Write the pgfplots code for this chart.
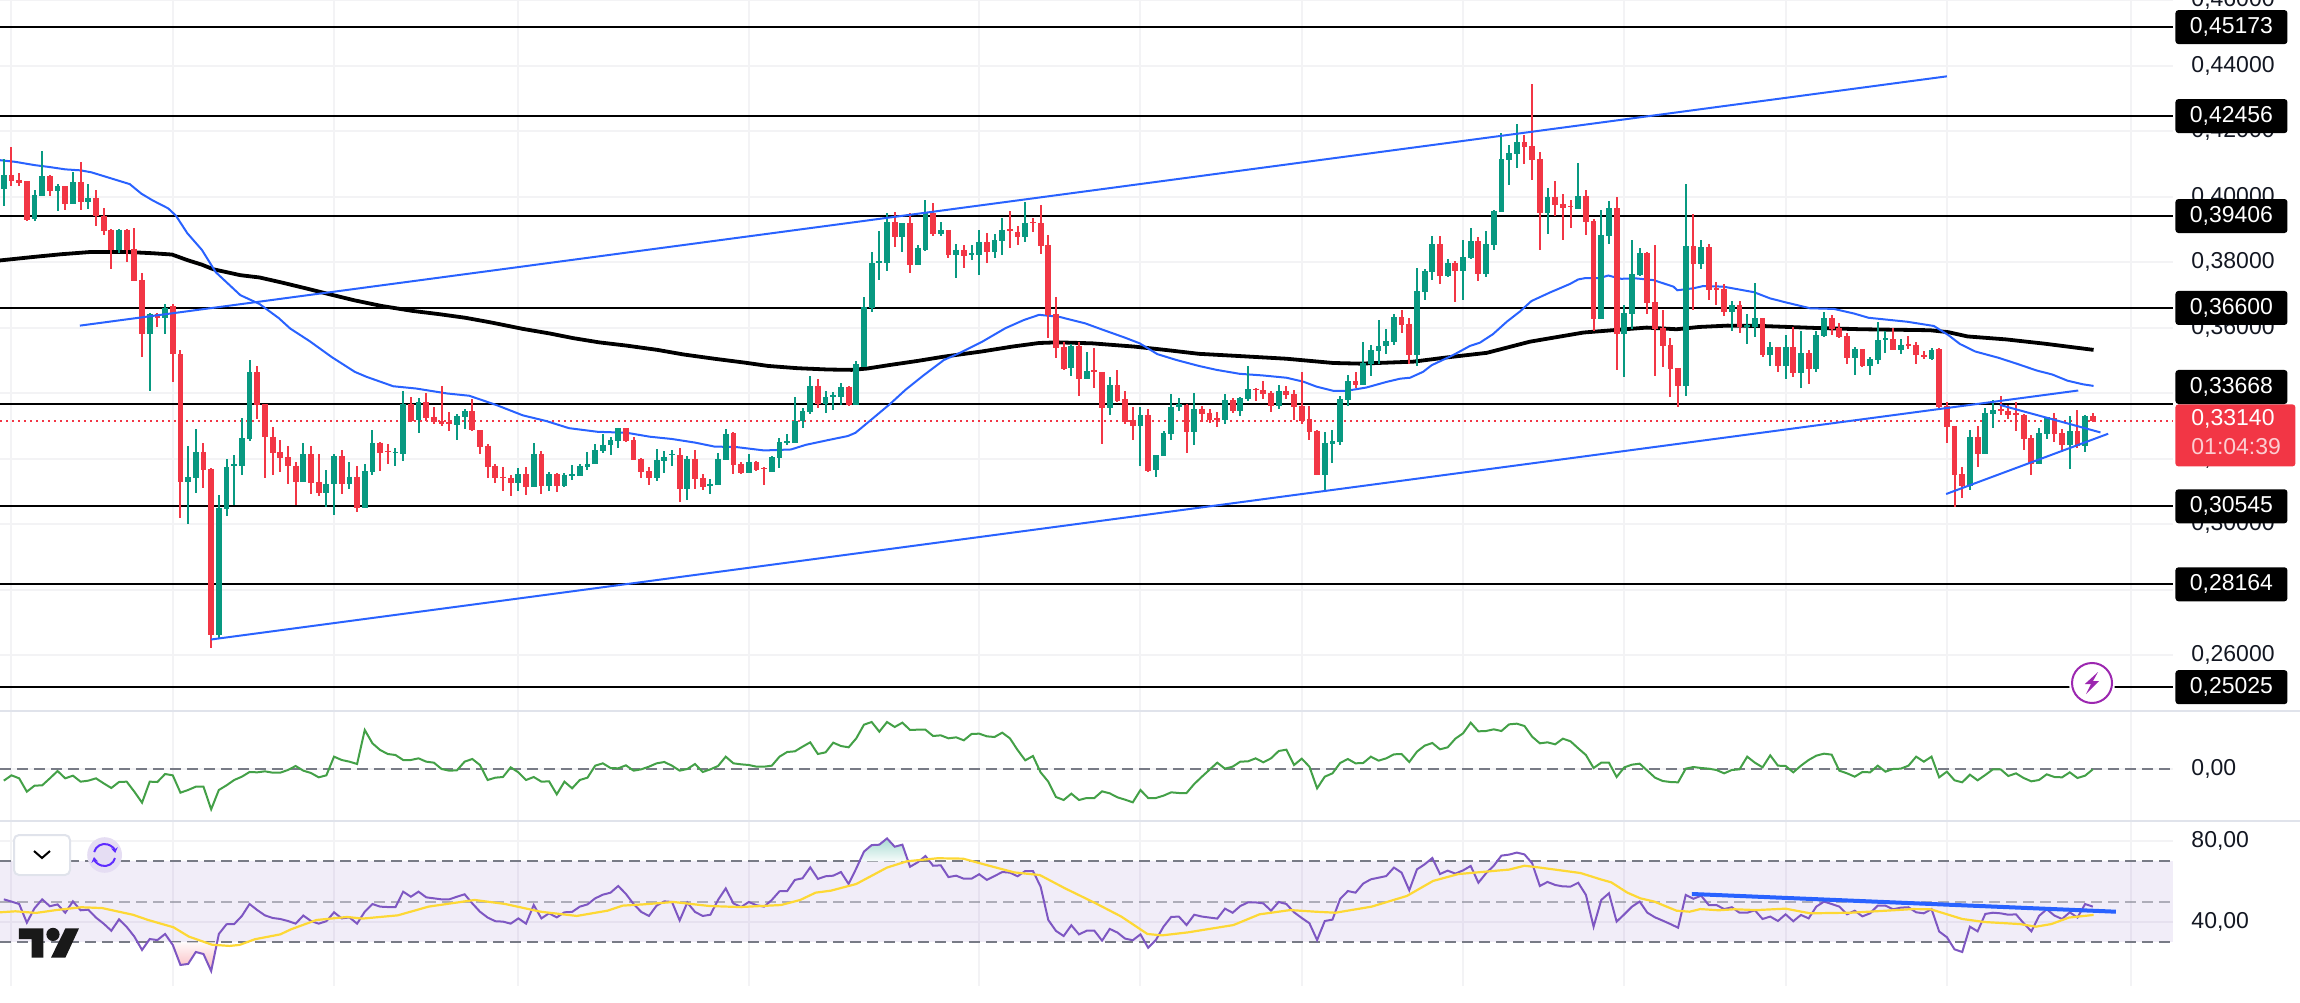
\documentclass[border=0pt]{standalone}
\usepackage{fontspec}
\setmainfont{Liberation Sans}
\usepackage{pgfplots}
\usepackage{pgfplotstable}
\pgfplotsset{compat=1.18}
\usetikzlibrary{arrows.meta}

\definecolor{upc}{HTML}{089981}
\definecolor{downc}{HTML}{F23645}
\definecolor{trend}{HTML}{2962FF}
\definecolor{gridc}{HTML}{F3F3F5}
\definecolor{divc}{HTML}{E0E3EB}
\definecolor{labc}{HTML}{131722}
\definecolor{dashc}{HTML}{787B86}
\definecolor{rsic}{HTML}{7E57C2}
\definecolor{rsima}{HTML}{FDD835}
\definecolor{cmfc}{HTML}{43A047}
\definecolor{boltc}{HTML}{9C27B0}
\definecolor{syncc}{HTML}{5E2BFF}

% i open high low close
\pgfplotstableread{
i o h l c
0 0.4022 0.4114 0.3971 0.4066
4 0.3930 0.4019 0.3926 0.4005
5 0.4003 0.4139 0.4003 0.4062
7 0.4018 0.4037 0.3956 0.4031
9 0.3978 0.4075 0.3978 0.4044
11 0.3983 0.4038 0.3962 0.3995
15 0.3836 0.3900 0.3827 0.3899
19 0.3581 0.3646 0.3405 0.3642
21 0.3628 0.3673 0.3579 0.3661
24 0.3130 0.3239 0.3002 0.3143
25 0.3142 0.3290 0.3096 0.3220
28 0.2663 0.3088 0.2650 0.3050
29 0.3046 0.3199 0.3026 0.3173
30 0.3178 0.3211 0.3057 0.3183
31 0.3179 0.3323 0.3150 0.3262
32 0.3260 0.3500 0.3254 0.3464
39 0.3130 0.3248 0.3130 0.3213
42 0.3095 0.3164 0.3053 0.3124
43 0.3123 0.3215 0.3027 0.3208
45 0.3123 0.3189 0.3108 0.3145
47 0.3050 0.3183 0.3050 0.3162
48 0.3159 0.3288 0.3151 0.3249
51 0.3217 0.3234 0.3178 0.3221
52 0.3215 0.3407 0.3193 0.3367
54 0.3317 0.3384 0.3279 0.3372
59 0.3303 0.3335 0.3256 0.3329
60 0.3328 0.3353 0.3290 0.3345
67 0.3125 0.3170 0.3101 0.3152
69 0.3114 0.3249 0.3114 0.3215
71 0.3117 0.3159 0.3101 0.3152
73 0.3116 0.3155 0.3114 0.3150
74 0.3148 0.3180 0.3136 0.3152
75 0.3146 0.3185 0.3146 0.3178
76 0.3176 0.3219 0.3166 0.3185
77 0.3185 0.3244 0.3185 0.3226
78 0.3222 0.3274 0.3218 0.3243
79 0.3241 0.3265 0.3212 0.3257
80 0.3255 0.3295 0.3232 0.3294
85 0.3141 0.3228 0.3132 0.3195
86 0.3194 0.3223 0.3156 0.3204
87 0.3210 0.3226 0.3178 0.3214
89 0.3108 0.3208 0.3075 0.3199
92 0.3116 0.3138 0.3092 0.3123
93 0.3119 0.3216 0.3119 0.3199
94 0.3197 0.3289 0.3197 0.3274
97 0.3157 0.3214 0.3157 0.3190
100 0.3160 0.3207 0.3160 0.3205
101 0.3203 0.3262 0.3171 0.3250
102 0.3249 0.3274 0.3242 0.3253
103 0.3249 0.3387 0.3249 0.3315
104 0.3314 0.3354 0.3295 0.3344
105 0.3342 0.3451 0.3337 0.3422
107 0.3367 0.3406 0.3339 0.3387
108 0.3389 0.3404 0.3348 0.3393
109 0.3388 0.3430 0.3363 0.3419
111 0.3365 0.3497 0.3365 0.3488
112 0.3481 0.3693 0.3481 0.3662
113 0.3659 0.3831 0.3648 0.3797
114 0.3797 0.3895 0.3745 0.3802
115 0.3797 0.3950 0.3773 0.3922
117 0.3877 0.3919 0.3831 0.3919
119 0.3791 0.3852 0.3791 0.3843
120 0.3837 0.3989 0.3834 0.3952
122 0.3886 0.3922 0.3880 0.3897
124 0.3822 0.3855 0.3751 0.3837
126 0.3822 0.3852 0.3806 0.3828
127 0.3822 0.3898 0.3760 0.3861
129 0.3831 0.3886 0.3812 0.3867
130 0.3864 0.3935 0.3822 0.3898
133 0.3877 0.3983 0.3861 0.3919
139 0.3477 0.3550 0.3452 0.3544
141 0.3443 0.3525 0.3443 0.3467
144 0.3355 0.3449 0.3333 0.3425
148 0.3300 0.3358 0.3177 0.3333
150 0.3165 0.3211 0.3144 0.3211
151 0.3208 0.3284 0.3208 0.3278
152 0.3275 0.3397 0.3257 0.3358
153 0.3357 0.3385 0.3345 0.3367
155 0.3281 0.3400 0.3242 0.3351
159 0.3318 0.3397 0.3306 0.3379
161 0.3345 0.3388 0.3330 0.3385
162 0.3382 0.3483 0.3376 0.3412
166 0.3361 0.3425 0.3352 0.3406
172 0.3150 0.3281 0.3101 0.3248
173 0.3245 0.3287 0.3187 0.3254
174 0.3251 0.3391 0.3241 0.3382
175 0.3379 0.3455 0.3361 0.3437
177 0.3425 0.3556 0.3425 0.3492
178 0.3489 0.3547 0.3452 0.3532
179 0.3529 0.3623 0.3489 0.3544
180 0.3544 0.3596 0.3519 0.3559
181 0.3556 0.3641 0.3547 0.3632
184 0.3516 0.3782 0.3483 0.3712
185 0.3709 0.3779 0.3684 0.3773
186 0.3770 0.3880 0.3745 0.3855
188 0.3757 0.3809 0.3754 0.3797
190 0.3773 0.3867 0.3684 0.3815
191 0.3812 0.3904 0.3809 0.3864
193 0.3763 0.3895 0.3754 0.3855
194 0.3852 0.3959 0.3837 0.3956
195 0.3953 0.4194 0.3953 0.4115
196 0.4112 0.4157 0.4035 0.4133
197 0.4130 0.4221 0.4087 0.4167
201 0.3950 0.4026 0.3886 0.3999
205 0.3962 0.4102 0.3962 0.4002
208 0.3626 0.3959 0.3626 0.3883
209 0.3880 0.3987 0.3855 0.3965
211 0.3580 0.3669 0.3449 0.3644
212 0.3641 0.3867 0.3596 0.3763
213 0.3760 0.3843 0.3757 0.3828
219 0.3422 0.4038 0.3391 0.3849
221 0.3794 0.3867 0.3779 0.3846
225 0.3648 0.3681 0.3590 0.3669
227 0.3603 0.3641 0.3550 0.3609
228 0.3602 0.3736 0.3571 0.3629
230 0.3516 0.3556 0.3483 0.3541
232 0.3483 0.3577 0.3443 0.3541
234 0.3461 0.3590 0.3416 0.3522
236 0.3474 0.3590 0.3464 0.3577
237 0.3574 0.3648 0.3571 0.3629
241 0.3507 0.3541 0.3455 0.3535
243 0.3483 0.3510 0.3455 0.3504
244 0.3501 0.3617 0.3489 0.3562
245 0.3562 0.3590 0.3522 0.3568
247 0.3532 0.3565 0.3519 0.3547
251 0.3505 0.3539 0.3501 0.3532
256 0.3116 0.3287 0.3104 0.3266
258 0.3214 0.3355 0.3214 0.3339
259 0.3336 0.3379 0.3294 0.3348
265 0.3184 0.3294 0.3184 0.3278
266 0.3275 0.3327 0.3260 0.3327
269 0.3242 0.3330 0.3168 0.3284
271 0.3239 0.3333 0.3220 0.3330
}\upT

\pgfplotstableread{
i o h l c
1 0.4066 0.4150 0.4031 0.4047
2 0.4051 0.4071 0.4032 0.4041
3 0.4046 0.4049 0.3926 0.3929
6 0.4062 0.4065 0.4003 0.4018
8 0.4032 0.4033 0.3960 0.3978
10 0.4045 0.4105 0.3960 0.3984
12 0.3995 0.4019 0.3910 0.3940
13 0.3941 0.3965 0.3884 0.3895
14 0.3899 0.3900 0.3780 0.3838
16 0.3899 0.3902 0.3801 0.3838
17 0.3841 0.3903 0.3743 0.3743
18 0.3746 0.3767 0.3511 0.3581
20 0.3641 0.3645 0.3601 0.3628
22 0.3666 0.3671 0.3434 0.3518
23 0.3518 0.3533 0.3020 0.3130
26 0.3220 0.3248 0.3110 0.3165
27 0.3169 0.3171 0.2623 0.2663
33 0.3464 0.3482 0.3321 0.3365
34 0.3367 0.3368 0.3142 0.3267
35 0.3267 0.3296 0.3150 0.3218
36 0.3220 0.3256 0.3159 0.3203
37 0.3204 0.3238 0.3122 0.3178
38 0.3179 0.3189 0.3057 0.3130
40 0.3213 0.3238 0.3092 0.3125
41 0.3129 0.3215 0.3086 0.3094
44 0.3208 0.3225 0.3091 0.3123
46 0.3145 0.3178 0.3037 0.3050
49 0.3249 0.3250 0.3162 0.3218
50 0.3224 0.3244 0.3185 0.3219
53 0.3367 0.3389 0.3312 0.3315
55 0.3372 0.3399 0.3316 0.3323
56 0.3328 0.3358 0.3305 0.3311
57 0.3314 0.3422 0.3301 0.3305
58 0.3312 0.3343 0.3284 0.3307
61 0.3345 0.3381 0.3284 0.3286
62 0.3287 0.3288 0.3214 0.3235
63 0.3240 0.3244 0.3141 0.3175
64 0.3178 0.3185 0.3127 0.3142
65 0.3145 0.3173 0.3101 0.3142
66 0.3141 0.3150 0.3085 0.3125
68 0.3152 0.3173 0.3089 0.3114
70 0.3215 0.3224 0.3092 0.3117
72 0.3152 0.3156 0.3099 0.3116
81 0.3294 0.3295 0.3254 0.3255
82 0.3257 0.3265 0.3197 0.3197
83 0.3199 0.3201 0.3142 0.3160
84 0.3162 0.3174 0.3119 0.3142
88 0.3211 0.3231 0.3069 0.3108
90 0.3199 0.3226 0.3108 0.3139
91 0.3141 0.3153 0.3104 0.3113
95 0.3278 0.3280 0.3153 0.3182
96 0.3184 0.3189 0.3153 0.3155
98 0.3190 0.3193 0.3162 0.3164
99 0.3171 0.3173 0.3119 0.3167
106 0.3422 0.3442 0.3354 0.3367
110 0.3420 0.3423 0.3361 0.3363
116 0.3922 0.3953 0.3846 0.3877
118 0.3919 0.3949 0.3767 0.3791
121 0.3950 0.3980 0.3880 0.3885
123 0.3898 0.3898 0.3812 0.3822
125 0.3837 0.3852 0.3782 0.3819
128 0.3861 0.3889 0.3797 0.3831
131 0.3901 0.3956 0.3843 0.3896
132 0.3892 0.3910 0.3852 0.3877
134 0.3922 0.3935 0.3892 0.3918
135 0.3919 0.3974 0.3825 0.3849
136 0.3852 0.3883 0.3568 0.3638
137 0.3640 0.3693 0.3507 0.3538
138 0.3541 0.3556 0.3471 0.3474
140 0.3544 0.3556 0.3391 0.3443
142 0.3471 0.3538 0.3415 0.3466
143 0.3465 0.3465 0.3245 0.3355
145 0.3425 0.3471 0.3373 0.3376
146 0.3382 0.3406 0.3306 0.3312
147 0.3318 0.3358 0.3257 0.3300
149 0.3333 0.3351 0.3159 0.3162
154 0.3364 0.3367 0.3217 0.3281
156 0.3352 0.3361 0.3312 0.3336
157 0.3339 0.3352 0.3309 0.3318
158 0.3323 0.3342 0.3297 0.3318
160 0.3379 0.3385 0.3339 0.3345
163 0.3414 0.3416 0.3376 0.3409
164 0.3409 0.3437 0.3382 0.3397
165 0.3400 0.3406 0.3342 0.3361
167 0.3406 0.3422 0.3382 0.3394
168 0.3397 0.3409 0.3318 0.3357
169 0.3361 0.3464 0.3306 0.3315
170 0.3321 0.3361 0.3257 0.3281
171 0.3284 0.3287 0.3150 0.3150
176 0.3437 0.3464 0.3416 0.3425
182 0.3632 0.3654 0.3583 0.3608
183 0.3611 0.3629 0.3489 0.3516
187 0.3855 0.3880 0.3733 0.3757
189 0.3797 0.3803 0.3678 0.3773
192 0.3864 0.3877 0.3742 0.3763
198 0.4167 0.4188 0.4099 0.4151
199 0.4154 0.4344 0.4050 0.4112
200 0.4115 0.4136 0.3837 0.3950
202 0.3999 0.4047 0.3941 0.3974
203 0.3977 0.4008 0.3867 0.3965
204 0.3971 0.3989 0.3904 0.3967
206 0.4002 0.4020 0.3883 0.3922
207 0.3925 0.3931 0.3590 0.3626
210 0.3965 0.3999 0.3470 0.3580
214 0.3828 0.3831 0.3641 0.3675
215 0.3678 0.3852 0.3452 0.3596
216 0.3599 0.3654 0.3480 0.3544
217 0.3547 0.3568 0.3388 0.3474
218 0.3477 0.3477 0.3358 0.3422
220 0.3849 0.3947 0.3654 0.3794
222 0.3846 0.3855 0.3684 0.3715
223 0.3720 0.3739 0.3669 0.3716
224 0.3718 0.3733 0.3635 0.3648
226 0.3669 0.3681 0.3583 0.3602
229 0.3629 0.3629 0.3510 0.3516
231 0.3541 0.3541 0.3464 0.3483
233 0.3541 0.3602 0.3449 0.3461
235 0.3522 0.3532 0.3428 0.3474
238 0.3629 0.3638 0.3577 0.3596
239 0.3599 0.3614 0.3568 0.3571
240 0.3574 0.3583 0.3489 0.3507
242 0.3535 0.3535 0.3480 0.3483
246 0.3565 0.3599 0.3532 0.3532
248 0.3550 0.3574 0.3535 0.3544
249 0.3547 0.3557 0.3489 0.3516
250 0.3517 0.3529 0.3503 0.3509
252 0.3534 0.3537 0.3351 0.3357
253 0.3361 0.3372 0.3248 0.3298
254 0.3300 0.3300 0.3052 0.3150
255 0.3153 0.3175 0.3080 0.3116
257 0.3266 0.3300 0.3175 0.3214
260 0.3352 0.3391 0.3333 0.3346
261 0.3345 0.3364 0.3321 0.3333
262 0.3339 0.3373 0.3284 0.3334
263 0.3333 0.3336 0.3226 0.3260
264 0.3263 0.3272 0.3150 0.3184
267 0.3324 0.3339 0.3251 0.3275
268 0.3278 0.3290 0.3220 0.3242
270 0.3284 0.3348 0.3232 0.3239
272 0.3330 0.3339 0.3312 0.3314
}\downT

\pgfplotsset{
  pane/.style={
    scale only axis, width=1086.5pt, anchor=south west,
    xmin=-0.495, xmax=282.45, clip=false,
    xtick={1,22,43,67,97,127,148,169,190,211,232,253,277}, xticklabels={},
    grid=major, grid style={gridc, line width=1pt},
    axis line style={draw=none}, major tick length=0pt,
    ytick pos=right, yticklabel pos=right,
    yticklabel style={anchor=west, inner sep=0pt, xshift=9pt, text=labc,
      font=\fontsize{11.5}{13}\selectfont},
    /pgf/number format/.cd, fixed, fixed zerofill, use comma, assume math mode=true,
  },
  lvl/.style={black, line width=1pt, forget plot},
  dashline/.style={dashc, line width=1pt, dash pattern=on 5.5pt off 3pt, forget plot},
  candle/.style={draw=none, mark=none, forget plot},
}

\newcommand{\lbox}[3][0pt]{\node[fill=black, text=white, rounded corners=1.5pt, inner sep=0pt,
  minimum width=56pt, minimum height=17pt, anchor=west,
  font=\fontsize{11.5}{13}\selectfont] at ([xshift=1pt,yshift=#1]#2) {#3};}

\begin{document}
\begin{tikzpicture}
\path[use as bounding box] (0,0) rectangle (1150pt,501pt);
\clip (0,0) rectangle (1150pt,501pt);

% price pane
\begin{axis}[pane, at={(0pt,145.5pt)}, height=355.5pt,
  ymin=0.24297, ymax=0.46,
  ytick={0.26,0.28,0.30,0.32,0.34,0.36,0.38,0.40,0.42,0.44,0.46},
  /pgf/number format/precision=5]

\addplot[lvl] coordinates {(-0.495,0.45173)(282.45,0.45173)};
\addplot[lvl] coordinates {(-0.495,0.42456)(282.45,0.42456)};
\addplot[lvl] coordinates {(-0.495,0.39406)(282.45,0.39406)};
\addplot[lvl] coordinates {(-0.495,0.36600)(282.45,0.36600)};
\addplot[lvl] coordinates {(-0.495,0.33668)(282.45,0.33668)};
\addplot[lvl] coordinates {(-0.495,0.30545)(282.45,0.30545)};
\addplot[lvl] coordinates {(-0.495,0.28164)(282.45,0.28164)};
\addplot[lvl] coordinates {(-0.495,0.25025)(282.45,0.25025)};
\addplot[downc, line width=1pt, dash pattern=on 1pt off 2pt, forget plot]
  coordinates {(-0.495,0.3314)(282.45,0.3314)};

% slow average
\addplot[black, line width=1.9pt, forget plot] coordinates {
(-0.5,0.3805)(4,0.3816)(7.5,0.3824)(11.4,0.3831)(15.9,0.3831)(19.4,0.3827)(21.9,0.3823)(23.9,0.3806)
(25.8,0.3792)(27.3,0.3778)(30.8,0.3760)(33.3,0.3753)(36.3,0.3737)(39.3,0.3720)(42.2,0.3703)(45.7,0.3683)
(49.2,0.3666)(53.2,0.3651)(56.7,0.3641)(60.1,0.3630)(63.6,0.3615)(67.6,0.3596)(71.1,0.3582)(74.1,0.3568)
(77.5,0.3555)(81.1,0.3545)(85.1,0.3532)(88.5,0.3518)(92.5,0.3505)(96.5,0.3493)(99.5,0.3483)(103.4,0.3476)
(107.4,0.3472)(110.4,0.3471)(112.4,0.3475)(115.4,0.3486)(118.9,0.3498)(122.3,0.3511)(127.3,0.3527)
(131.3,0.3542)(134.8,0.3553)(137.2,0.3555)(141.7,0.3552)(147.2,0.3542)(151.2,0.3532)(155.6,0.3520)
(161,0.3513)(167,0.3505)(173.1,0.3492)(176.6,0.3490)(183.5,0.3496)(187.9,0.3509)(193.1,0.3523)
(198.7,0.3557)(205.7,0.3585)(210,0.3593)(213.9,0.3600)(217.8,0.3595)(220.8,0.3602)(224.4,0.3606)
(228.8,0.3605)(235.8,0.3599)(241.8,0.3595)(250.8,0.3592)(253.2,0.3586)(255.7,0.3573)(260.7,0.3564)
(265.7,0.3551)(272.1,0.3532)};

% fast average
\addplot[trend, line width=1pt, forget plot] coordinates {
(-0.5,0.4111)(1.5,0.4106)(4,0.4096)(6,0.4090)(8,0.4083)(10,0.4080)(11.4,0.4074)(13.9,0.4056)(16.4,0.4038)
(17.9,0.4009)(19.4,0.3988)(21.4,0.3964)(22.4,0.3942)(23.9,0.3888)(25.8,0.3837)(27.6,0.3769)(30.8,0.3699)
(33.3,0.3672)(35.8,0.3629)(37.3,0.3597)(39.8,0.3559)(42.7,0.3510)(45.7,0.3465)(47.2,0.3450)(50.7,0.3421)
(53.7,0.3414)(57.7,0.3399)(60.6,0.3392)(64.1,0.3364)(67.6,0.3332)(70.6,0.3315)(73.6,0.3293)(77.3,0.3282)
(81.1,0.3279)(84.1,0.3267)(87,0.3260)(90,0.3249)(92.5,0.3237)(95.5,0.3235)(99,0.3225)(102.5,0.3228)
(104.4,0.3242)(107.4,0.3257)(109.9,0.3269)(110.9,0.3279)(112.9,0.3318)(115.4,0.3367)(117.4,0.3410)
(119.8,0.3455)(122.4,0.3501)(124.4,0.3522)(127.4,0.3557)(130.4,0.3598)(132.8,0.3623)(134.8,0.3639)
(137.4,0.3633)(140.8,0.3613)(142.9,0.3595)(145.9,0.3570)(147.9,0.3552)(150.2,0.3519)(152.7,0.3501)
(155.6,0.3483)(157.9,0.3471)(160.9,0.3459)(163.9,0.3454)(167,0.3447)(169.2,0.3435)(170.9,0.3420)
(173.1,0.3407)(174.8,0.3407)(177.4,0.3417)(180,0.3434)(181.8,0.3444)(183.1,0.3447)(184.8,0.3465)
(185.9,0.3485)(188.7,0.3516)(190.9,0.3544)(192.2,0.3554)(193.9,0.3580)(195.7,0.3618)(197.4,0.3649)
(198.9,0.3681)(201.3,0.3707)(203.9,0.3733)(205,0.3747)(205.9,0.3751)(207.8,0.3751)(208.9,0.3759)
(210.6,0.3749)(212.6,0.3750)(214.8,0.3745)(217.4,0.3725)(217.9,0.3714)(220,0.3720)(221.3,0.3727)
(223.9,0.3725)(227.9,0.3708)(230,0.3689)(232.2,0.3676)(235.2,0.3659)(238.3,0.3657)(240.9,0.3643)
(242.8,0.3630)(247.8,0.3618)(251.3,0.3605)(253.2,0.3577)(254.7,0.3550)(256.7,0.3527)(259.7,0.3508)
(262.2,0.3489)(264.7,0.3469)(266.7,0.3457)(268.7,0.3438)(270.7,0.3427)(272.1,0.3422)};

% wicks
\addplot[candle, error bars/.cd, y dir=both, y explicit, error mark=none,
  error bar style={upc, line width=1pt}]
  table[x=i, y=c, y error plus expr=\thisrow{h}-\thisrow{c}, y error minus expr=\thisrow{c}-\thisrow{l}] {\upT};
\addplot[candle, error bars/.cd, y dir=both, y explicit, error mark=none,
  error bar style={downc, line width=1pt}]
  table[x=i, y=c, y error plus expr=\thisrow{h}-\thisrow{c}, y error minus expr=\thisrow{c}-\thisrow{l}] {\downT};
% bodies
\addplot[candle, error bars/.cd, y dir=minus, y explicit, error mark=none,
  error bar style={upc, line width=2.9pt}]
  table[x=i, y=c, y error minus expr=\thisrow{c}-\thisrow{o}] {\upT};
\addplot[candle, error bars/.cd, y dir=minus, y explicit, error mark=none,
  error bar style={downc, line width=2.9pt}]
  table[x=i, y=o, y error minus expr=\thisrow{o}-\thisrow{c}] {\downT};

% drawn trend lines
\addplot[trend, line width=1pt, forget plot] coordinates {(9.9,0.3606)(253,0.4367)};
\addplot[trend, line width=1pt, forget plot] coordinates {(27,0.2648)(270.1,0.3408)};
\addplot[trend, line width=1pt, forget plot] coordinates {(259.9,0.3364)(273,0.3280)};
\addplot[trend, line width=1pt, forget plot] coordinates {(252.9,0.3092)(274,0.3276)};

\coordinate (l1) at (axis cs:282.45,0.45173);
\coordinate (l2) at (axis cs:282.45,0.42456);
\coordinate (l3) at (axis cs:282.45,0.39406);
\coordinate (l4) at (axis cs:282.45,0.36600);
\coordinate (l5) at (axis cs:282.45,0.33668);
\coordinate (l6) at (axis cs:282.45,0.30545);
\coordinate (l7) at (axis cs:282.45,0.28164);
\coordinate (l8) at (axis cs:282.45,0.25025);
\end{axis}

% oscillator pane
\begin{axis}[pane, at={(0pt,90.5pt)}, height=55pt,
  ymin=-0.156, ymax=0.174, ytick={0},
  /pgf/number format/precision=2]
\addplot[dashline] coordinates {(-0.495,0)(282.45,0)};
\addplot[cmfc, line width=1pt, forget plot] coordinates {
(0,-0.035)(1,-0.019)(2,-0.028)(3,-0.068)(4,-0.050)(5,-0.049)(6,-0.028)(7,-0.006)(8,-0.028)(9,-0.020)
(10,-0.038)(11,-0.035)(12,-0.028)(13,-0.043)(14,-0.057)(15,-0.039)(16,-0.038)(17,-0.068)(18,-0.101)(19,-0.038)
(20,-0.039)(21,-0.015)(22,-0.019)(23,-0.071)(24,-0.063)(25,-0.053)(26,-0.053)(27,-0.121)(28,-0.063)(29,-0.049)
(30,-0.033)(31,-0.023)(32,-0.009)(33,-0.010)(34,-0.007)(35,-0.011)(36,-0.011)(37,-0.003)(38,0.009)(39,-0.005)
(40,-0.012)(41,-0.025)(42,-0.019)(43,0.037)(44,0.027)(45,0.022)(46,0.015)(47,0.117)(48,0.077)(49,0.057)
(50,0.045)(51,0.042)(52,0.027)(53,0.027)(54,0.032)(55,0.022)(56,0.019)(57,0)(58,-0.005)(59,-0.004)
(60,0.022)(61,0.030)(62,0.012)(63,-0.033)(64,-0.026)(65,-0.024)(66,0.005)(67,-0.010)(68,-0.033)(69,-0.024)
(70,-0.038)(71,-0.037)(72,-0.076)(73,-0.038)(74,-0.058)(75,-0.033)(76,-0.026)(77,0.010)(78,0.017)(79,0.003)
(80,0.002)(81,0.011)(82,-0.005)(83,-0.001)(84,0.007)(85,0.017)(86,0.021)(87,0.010)(88,-0.005)(89,0)
(90,0.015)(91,-0.009)(92,-0.001)(93,0.009)(94,0.037)(95,0.017)(96,0.014)(97,0.012)(98,0.007)(99,0.007)
(100,0.010)(101,0.037)(102,0.051)(103,0.053)(104,0.067)(105,0.080)(106,0.045)(107,0.050)(108,0.079)(109,0.069)
(110,0.065)(111,0.092)(112,0.133)(113,0.141)(114,0.112)(115,0.141)(116,0.126)(117,0.139)(118,0.117)(119,0.118)
(120,0.118)(121,0.099)(122,0.101)(123,0.092)(124,0.095)(125,0.086)(126,0.105)(127,0.106)(128,0.098)(129,0.096)
(130,0.109)(131,0.092)(132,0.057)(133,0.026)(134,0.039)(135,-0.010)(136,-0.038)(137,-0.084)(138,-0.093)(139,-0.074)
(140,-0.093)(141,-0.087)(142,-0.087)(143,-0.067)(144,-0.073)(145,-0.085)(146,-0.092)(147,-0.100)(148,-0.063)(149,-0.087)
(150,-0.087)(151,-0.080)(152,-0.070)(153,-0.072)(154,-0.072)(155,-0.045)(156,-0.023)(157,-0.002)(158,0.019)(159,0.001)
(160,0.007)(161,0.022)(162,0.023)(163,0.032)(164,0.020)(165,0.032)(166,0.054)(167,0.058)(168,0.012)(169,0.031)
(170,0.007)(171,-0.058)(172,-0.023)(173,-0.013)(174,0.018)(175,0.030)(176,0.017)(177,0.018)(178,0.037)(179,0.025)
(180,0.032)(181,0.044)(182,0.045)(183,0.021)(184,0.052)(185,0.070)(186,0.078)(187,0.059)(188,0.065)(189,0.091)
(190,0.107)(191,0.139)(192,0.113)(193,0.114)(194,0.119)(195,0.114)(196,0.134)(197,0.136)(198,0.129)(199,0.097)
(200,0.077)(201,0.080)(202,0.074)(203,0.091)(204,0.083)(205,0.062)(206,0.042)(207,0.003)(208,0.019)(209,0.019)
(210,-0.024)(211,0.005)(212,0.013)(213,0.016)(214,-0.005)(215,-0.026)(216,-0.036)(217,-0.039)(218,-0.040)(219,0.001)
(220,0.006)(221,0.003)(222,0.001)(223,-0.003)(224,-0.013)(225,-0.003)(226,-0.001)(227,0.037)(228,0.019)(229,0.005)
(230,0.041)(231,0.010)(232,0.009)(233,-0.010)(234,0.010)(235,0.027)(236,0.040)(237,0.046)(238,0.043)(239,-0.005)
(240,-0.013)(241,-0.023)(242,-0.009)(243,-0.010)(244,0.010)(245,-0.008)(246,0)(247,0.001)(248,0.010)(249,0.037)
(250,0.022)(251,0.037)(252,-0.025)(253,-0.008)(254,-0.034)(255,-0.040)(256,-0.017)(257,-0.034)(258,-0.018)(259,-0.001)
(260,-0.001)(261,-0.021)(262,-0.013)(263,-0.027)(264,-0.037)(265,-0.033)(266,-0.016)(267,-0.024)(268,-0.025)(269,-0.010)
(270,-0.027)(271,-0.020)(272,-0.001)};
\end{axis}

% RSI pane
\begin{axis}[pane, at={(0pt,8pt)}, height=82.5pt,
  ymin=8.5, ymax=90, ytick={40,80},
  /pgf/number format/precision=2]
\addplot[draw=none, fill=rsic, fill opacity=0.11, forget plot]
  coordinates {(-0.495,30)(282.45,30)(282.45,70)(-0.495,70)} -- cycle;
\addplot[dashline] coordinates {(-0.495,70)(282.45,70)};
\addplot[dashline, opacity=0.55] coordinates {(-0.495,50)(282.45,50)};
\addplot[dashline] coordinates {(-0.495,30)(282.45,30)};

\addplot[draw=none, forget plot, top color=upc!35!white, bottom color=upc!3!white] coordinates {
(111.6,70)(112,74.9)(113,78.1)(114,78.3)(115,81.4)(116,77.3)(117,78.3)(117.6,70)} -- cycle;
\addplot[draw=none, forget plot, bottom color=downc!35!white, top color=downc!3!white] coordinates {
(21.8,30)(22,28.8)(23,18.9)(24,19.4)(25,25.3)(26,24.3)(27,15.9)(27.9,30)} -- cycle;

\addplot[rsic, line width=1pt, forget plot] coordinates {
(0,51.3)(1,50.2)(2,49.0)(3,39.8)(4,46.9)(5,51.3)(6,47.9)(7,48.8)(8,44.7)(9,50.3)
(10,45.9)(11,46.2)(12,42.3)(13,39.3)(14,35.8)(15,41.4)(16,37.7)(17,32.9)(18,26.3)(19,31.7)
(20,31.2)(21,34.2)(22,28.8)(23,18.9)(24,19.4)(25,25.3)(26,24.3)(27,15.9)(28,34.2)(29,39.0)
(30,39.1)(31,43.1)(32,49.0)(33,46.0)(34,43.4)(35,42.1)(36,41.6)(37,40.6)(38,39.3)(39,43.3)
(40,40.6)(41,39.3)(42,40.5)(43,44.9)(44,41.9)(45,42.4)(46,39.3)(47,45.2)(48,49.0)(49,47.7)
(50,47.5)(51,47.5)(52,55.1)(53,52.6)(54,55.1)(55,52.3)(56,51.8)(57,51.3)(58,51.3)(59,52.6)
(60,53.8)(61,49.3)(62,45.2)(63,42.3)(64,40.5)(65,40.3)(66,39.3)(67,41.9)(68,39.3)(69,48.5)
(70,41.9)(71,44.4)(72,42.4)(73,44.9)(74,45.1)(75,47.7)(76,48.8)(77,51.8)(78,53.6)(79,54.6)
(80,57.9)(81,54.0)(82,49.0)(83,45.1)(84,43.1)(85,48.2)(86,50.3)(87,50.0)(88,40.9)(89,49.7)
(90,45.1)(91,43.1)(92,43.7)(93,51.0)(94,56.7)(95,49.3)(96,47.5)(97,50.0)(98,48.4)(99,47.7)
(100,51.0)(101,55.3)(102,55.4)(103,60.9)(104,61.7)(105,67.1)(106,61.4)(107,62.7)(108,63.0)(109,64.8)
(110,58.9)(111,66.6)(112,74.9)(113,78.1)(114,78.3)(115,81.4)(116,77.3)(117,78.3)(118,67.4)(119,69.6)
(120,72.7)(121,67.9)(122,68.1)(123,62.3)(124,63.0)(125,61.5)(126,61.5)(127,63.7)(128,60.9)(129,62.8)
(130,64.8)(131,64.5)(132,62.7)(133,65.3)(134,65.3)(135,57.6)(136,41.1)(137,35.7)(138,33.2)(139,38.5)
(140,34.0)(141,35.8)(142,35.8)(143,30.9)(144,36.7)(145,34.9)(146,31.9)(147,31.1)(148,34.0)(149,27.4)
(150,31.2)(151,37.8)(152,42.6)(153,42.8)(154,38.6)(155,43.7)(156,42.8)(157,42.3)(158,41.8)(159,46.7)
(160,44.7)(161,48.0)(162,49.8)(163,49.8)(164,49.3)(165,45.7)(166,50.0)(167,49.0)(168,44.9)(169,42.1)
(170,39.5)(171,31.2)(172,40.6)(173,41.3)(174,51.5)(175,55.4)(176,54.6)(177,59.1)(178,61.2)(179,62.0)
(180,62.8)(181,67.0)(182,64.5)(183,55.8)(184,66.1)(185,68.6)(186,71.7)(187,63.8)(188,65.5)(189,64.0)
(190,65.6)(191,67.8)(192,59.5)(193,64.2)(194,67.9)(195,72.9)(196,73.4)(197,74.4)(198,73.5)(199,69.1)
(200,57.9)(201,59.9)(202,58.4)(203,57.7)(204,57.6)(205,59.5)(206,53.5)(207,37.8)(208,51.0)(209,54.3)
(210,40.3)(211,43.9)(212,47.7)(213,50.2)(214,44.7)(215,42.4)(216,40.8)(217,39.1)(218,37.3)(219,53.5)
(220,51.6)(221,53.1)(222,48.5)(223,48.5)(224,46.5)(225,47.4)(226,44.7)(227,44.7)(228,45.9)(229,41.6)
(230,42.8)(231,40.6)(232,43.9)(233,40.5)(234,43.6)(235,41.9)(236,47.7)(237,50.2)(238,49.0)(239,47.7)
(240,43.9)(241,45.7)(242,42.9)(243,44.4)(244,48.2)(245,48.2)(246,46.4)(247,47.2)(248,47.4)(249,44.9)
(250,44.4)(251,46.5)(252,35.4)(253,32.6)(254,26.6)(255,25.3)(256,37.8)(257,35.5)(258,44.1)(259,44.7)
(260,44.4)(261,43.7)(262,43.9)(263,39.5)(264,35.5)(265,43.1)(266,46.4)(267,43.3)(268,41.6)(269,44.9)
(270,42.3)(271,49.0)(272,47.7)};

\addplot[rsima, line width=1.1pt, forget plot] coordinates {
(-0.5,44.9)(1.5,45.4)(4.2,44.6)(6.8,46.0)(10.1,47.4)(12.8,47.0)(16.8,43.7)(18.8,41.1)(22.1,37.5)(24.1,32.9)
(27.1,28.9)(29.4,28.3)(30.7,28.8)(32.7,31.6)(36,34.0)(37.4,36.5)(40.7,41.1)(44.7,42.6)(46.7,41.8)(51.3,43.4)
(55.3,47.7)(61.3,51.0)(65.3,49.0)(69.9,45.2)(74.6,43.1)(78.6,45.7)(80.6,48.2)(83.2,48.8)(87.2,50.0)(91.9,48.0)
(95.9,47.5)(101.2,48.5)(103.7,51.0)(105.7,54.6)(107.7,55.6)(111,58.9)(115,67.0)(117.6,70.1)(121.6,71.6)(124.9,71.4)
(128.3,67.9)(131.6,64.6)(134.9,63.3)(138.2,56.7)(142.2,49.3)(145.5,42.8)(148.9,34.2)(150.8,33.5)(154.2,35.0)
(160.1,38.6)(163.5,43.9)(167.5,46.0)(170.8,45.2)(173.4,44.7)(178.1,47.7)(182.7,53.0)(186.1,60.4)(189.4,63.8)
(196,66.0)(198,67.9)(200,67.0)(205.3,64.3)(207.9,61.2)(209.3,59.7)(211.4,54.6)(213.1,51.8)(214.9,50.2)(217.8,45.7)
(219.5,45.2)(220.9,46.5)(223.3,45.9)(225.3,46.4)(228.2,46.0)(232,46.7)(235.2,44.4)(240.5,44.7)(245.1,45.7)
(248.6,46.5)(250.9,46.4)(255,41.6)(257.9,40.1)(262.5,39.1)(264.6,37.8)(266.6,39.1)(268.9,42.3)(272.1,43.6)};

\addplot[trend, line width=2pt, forget plot] coordinates {(219.8,53.95)(275,45.2)};
\end{axis}

% pane dividers
\draw[divc, line width=1pt] (0,145.5pt) -- (1150pt,145.5pt);
\draw[divc, line width=1pt] (0,90.5pt) -- (1150pt,90.5pt);

% price scale labels
\node[fill=downc, rounded corners=1.5pt, minimum width=60pt, minimum height=31pt, inner sep=0pt,
  anchor=north west] at (1087.5pt,299pt) {};
\node[text=white, inner sep=0pt, anchor=west, font=\fontsize{11.5}{13}\selectfont] at (1095.5pt,291.5pt) {0,33140};
\node[text=white!75!downc, inner sep=0pt, anchor=west, font=\fontsize{11.5}{13}\selectfont] at (1095.5pt,277.5pt) {01:04:39};
\lbox{l1}{0,45173}
\lbox{l2}{0,42456}
\lbox{l3}{0,39406}
\lbox{l4}{0,36600}
\lbox[8.5pt]{l5}{0,33668}
\lbox{l6}{0,30545}
\lbox{l7}{0,28164}
\lbox{l8}{0,25025}

% flash icon
\fill[white] (1046pt,159.5pt) circle (11.5pt);
\draw[boltc, line width=1pt] (1046pt,159.5pt) circle (10pt);
\fill[boltc, shift={(1046pt,159.5pt)}] (3pt,5.5pt) -- (-3.6pt,-0.5pt) -- (-0.5pt,-0.5pt) -- (-3pt,-5.5pt)
  -- (3.6pt,1pt) -- (0.5pt,1pt) -- cycle;

% chart controls
\draw[divc, fill=white, line width=1pt, rounded corners=2.5pt] (7pt,63.5pt) rectangle (35pt,83.5pt);
\draw[black, line width=1pt] (17pt,75.5pt) -- (21pt,72pt) -- (25pt,75.5pt);
\fill[rsic!20!white] (52.3pt,73.5pt) ellipse (8.7pt and 8.9pt);
\draw[syncc, line width=1pt, -{Stealth[length=2.6pt,width=3.4pt]}] (47.1pt,75pt) arc (165:10:5.4pt);
\draw[syncc, line width=1pt, -{Stealth[length=2.6pt,width=3.4pt]}] (57.5pt,72pt) arc (-15:-170:5.4pt);

% logo
\fill[black!90] (9.4pt,36.8pt) -- (21.7pt,36.8pt) -- (21.7pt,22.2pt) -- (15.8pt,22.2pt) -- (15.8pt,31.5pt) -- (9.4pt,31.5pt) -- cycle;
\fill[black!90] (26.5pt,33.8pt) circle (3.3pt);
\fill[black!90] (32.7pt,36.8pt) -- (39.5pt,36.8pt) -- (32.7pt,22.2pt) -- (25.5pt,22.2pt) -- cycle;
\end{tikzpicture}
\end{document}
